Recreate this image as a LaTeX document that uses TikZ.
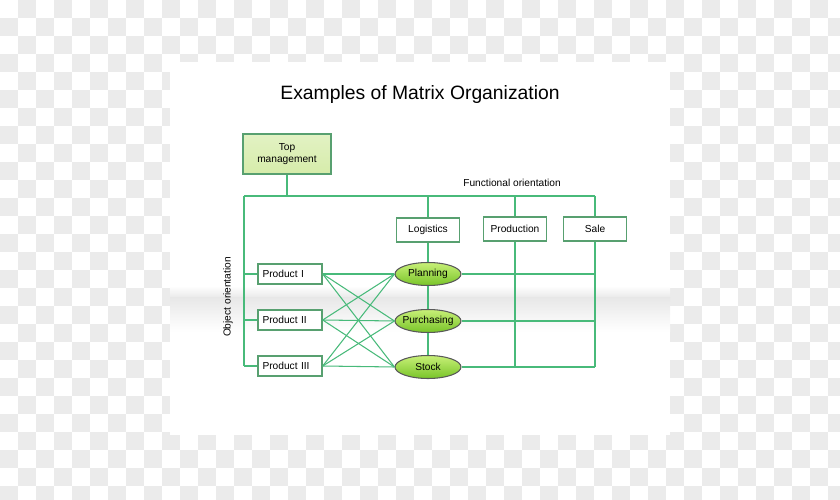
\documentclass[tikz,border=0pt]{standalone}
\usepackage{fontspec}
\setmainfont{Liberation Sans}
\usetikzlibrary{shapes.geometric}
\definecolor{linegreen}{RGB}{72,186,122}
\definecolor{boxline}{RGB}{88,160,112}
\definecolor{topfill}{RGB}{214,236,170}
\definecolor{ovaltop}{RGB}{200,240,120}
\definecolor{ovalbot}{RGB}{120,196,40}
\definecolor{checkgray}{RGB}{235,235,235}

\begin{document}
\begin{tikzpicture}[x=0.02cm,y=-0.02cm,
    small/.style={font=\fontsize{5.8}{7}\selectfont},
    unitbox/.style={small,draw=boxline,line width=0.8pt,fill=white,
      minimum width=1.26cm,minimum height=0.48cm,inner sep=1pt},
    prodbox/.style={unitbox,minimum width=1.28cm,minimum height=0.4cm,
      anchor=center,text width=1.1cm,align=left},
    oval/.style={small,ellipse,draw=black!65,line width=0.6pt,
      top color=ovaltop,bottom color=ovalbot,
      minimum width=1.32cm,minimum height=0.46cm,inner ysep=0pt,
      inner xsep=-1.5pt},
    link/.style={linegreen,line width=0.6pt}]
  \useasboundingbox (0,0) rectangle (840,500);

  % Backdrop
  \foreach \i in {0,...,46}{
    \pgfmathtruncatemacro{\off}{mod(\i+1,2)}
    \foreach \j in {0,2,...,26}{
      \fill[checkgray] ({18*\i},{18*(\j+\off)}) rectangle ++(18,18);
    }
  }
  \fill[white] (170,62) rectangle (670,435);
  \shade[top color=white,bottom color=black!9] (170,286) rectangle (670,298);
  \shade[top color=black!9,bottom color=white] (170,298) rectangle (670,332);

  % Title
  \node[font=\fontsize{11}{13}\selectfont] (title) at (420,95)
    {Examples of Matrix Organization};

  % Top management
  \node[small,draw=boxline,line width=0.8pt,top color=topfill!70,
    bottom color=topfill,align=center,minimum width=1.76cm,
    minimum height=0.8cm] (top) at (287,154) {Top\\management};

  % Functions
  \node[unitbox] (log) at (428,230) {Logistics};
  \node[unitbox] (prod) at (515,229) {Production};
  \node[unitbox] (sale) at (595,229) {Sale};
  \node[small] (func) at (512,183) {Functional orientation};

  % Products
  \node[prodbox] (p1) at (290,274) {Product I};
  \node[prodbox] (p2) at (290,320) {Product II};
  \node[prodbox] (p3) at (290,366) {Product III};
  \node[small,rotate=90] (obj) at (228,297) {Object orientation};

  % Functions along the chain
  \node[oval] (plan) at (428,274) {Planning};
  \node[oval] (purch) at (428,321) {Purchasing};
  \node[oval] (stock) at (428,367) {Stock};

  % Frame lines
  \coordinate (fl) at (244,196);
  \draw[link] (top.south) -- (top.south |- fl);
  \draw[link] (fl) -- (fl -| sale) (fl) -- (p3.west -| fl);
  \draw[link] (log.north |- fl) -- (log.north);
  \draw[link] (prod.north |- fl) -- (prod.north);
  \draw[link] (sale.north |- fl) -- (sale.north);
  \draw[link] (p1.west -| fl) -- (p1.west);
  \draw[link] (p2.west -| fl) -- (p2.west);
  \draw[link] (p3.west -| fl) -- (p3.west);

  % Vertical chain
  \draw[link] (log.south) -- (plan.north);
  \draw[link] (plan.south) -- (purch.north);
  \draw[link] (purch.south) -- (stock.north);
  \draw[link] (prod.south) -- (prod.south |- stock);
  \draw[link] (sale.south) -- (sale.south |- stock);

  % Rows
  \draw[link] (plan.east) -- (plan.east -| sale);
  \draw[link] (purch.east) -- (purch.east -| sale);
  \draw[link] (stock.east) -- (stock.east -| sale);

  % Products to functions
  \foreach \p in {p1,p2,p3}{
    \foreach \e in {plan,purch,stock}{
      \draw[link] (\p.east) -- (\e.west);
    }
  }
\end{tikzpicture}
\end{document}
